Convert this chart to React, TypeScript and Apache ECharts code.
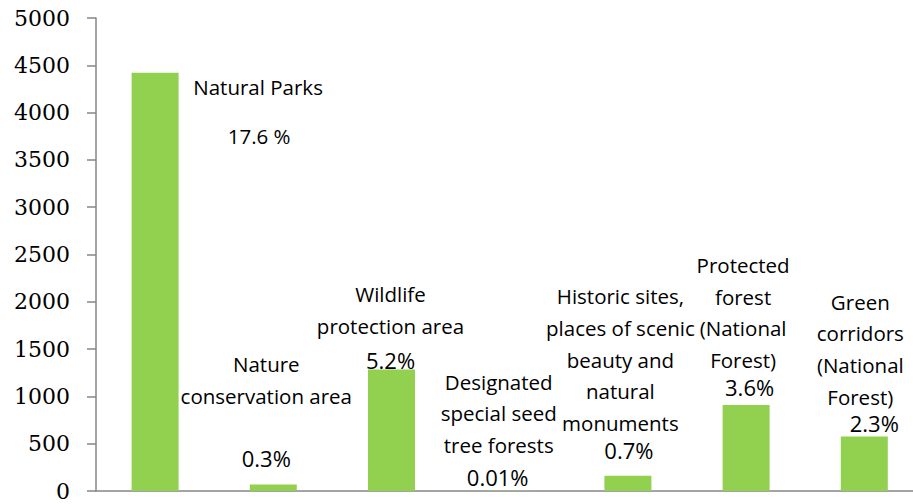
import React, { useEffect, useRef } from "react";
import * as echarts from "echarts";

// ---- data ----
const categories = [
  "Natural Parks",
  "Nature conservation area",
  "Wildlife protection area",
  "Designated special seed tree forests",
  "Historic sites, places of scenic beauty and natural monuments",
  "Protected forest (National Forest)",
  "Green corridors (National Forest)",
];
const nameLabels = [
  "Natural Parks",
  "Nature\nconservation area",
  "Wildlife\nprotection area",
  "Designated\nspecial seed\ntree forests",
  "Historic sites,\nplaces of scenic\nbeauty and\nnatural\nmonuments",
  "Protected\nforest\n(National\nForest)",
  "Green\ncorridors\n(National\nForest)",
];
const areaValues = [4420, 70, 1285, 2, 160, 910, 575];
const shareLabels = ["17.6 %", "0.3%", "5.2%", "0.01%", "0.7%", "3.6%", "2.3%"];
const yTicks = { min: 0, max: 5000, interval: 500 };

// ---- layout (label offsets relative to bar top centre) ----
const nameOffsets = [
  [103, 30],
  [-7, -73],
  [-1, -28],
  [-11, -30],
  [-7.5, -37],
  [-3, -29],
  [-4, -24],
];
const shareOffsets = [
  [104, 72],
  [-7, -17],
  [-1, 0],
  [-12, -5],
  [1, -17],
  [3.5, -9],
  [10, -5],
];

export default function App() {
  const ref = useRef<HTMLDivElement>(null);
  useEffect(() => {
    if (!ref.current) return;
    const chart = echarts.init(ref.current, null, { renderer: "svg" });
    const textFont = "Open Sans";
    chart.setOption({
      animation: false,
      backgroundColor: "#ffffff",
      grid: { left: 96, right: 0.6, top: 18, bottom: 13, containLabel: false },
      xAxis: {
        type: "category",
        data: categories,
        axisTick: { show: false },
        axisLabel: { show: false },
        axisLine: { show: true, lineStyle: { color: "#868686", width: 1.5 } },
      },
      yAxis: {
        type: "value",
        min: yTicks.min,
        max: yTicks.max,
        interval: yTicks.interval,
        splitLine: { show: false },
        axisLine: { show: true, lineStyle: { color: "#868686", width: 1.5 } },
        axisTick: { show: true, length: 9, lineStyle: { color: "#868686", width: 1.5 } },
        axisLabel: {
          margin: 26,
          fontFamily: "'DejaVu Serif', 'Liberation Serif', serif",
          fontSize: 22,
          color: "#000000",
          formatter: (v: number) => String(v),
        },
      },
      series: [
        {
          type: "bar",
          barWidth: 47,
          itemStyle: { color: "#92D050" },
          data: areaValues.map((v, i) => ({
            value: v,
            label: {
              show: true,
              position: "top",
              distance: 0,
              offset: nameOffsets[i],
              formatter: nameLabels[i],
              fontFamily: textFont,
              fontSize: 20.5,
              lineHeight: 31.7,
              color: "#000000",
              align: "center",
            },
          })),
        },
        {
          type: "bar",
          barWidth: 47,
          barGap: "-100%",
          silent: true,
          itemStyle: { color: "rgba(0,0,0,0)" },
          data: areaValues.map((v, i) => ({
            value: v,
            label: {
              show: true,
              position: "top",
              distance: 0,
              offset: shareOffsets[i],
              formatter: shareLabels[i],
              fontFamily: textFont,
              fontSize: i === 0 ? 20.5 : 22,
              lineHeight: 18,
              color: "#000000",
              align: "center",
            },
          })),
        },
      ],
    });
    return () => chart.dispose();
  }, []);
  return (
    <div
      style={{
        position: "absolute",
        left: 0,
        top: 0,
        width: 913,
        height: 504,
        overflow: "hidden",
      }}
    >
      <div ref={ref} style={{ width: 924, height: 504 }} />
    </div>
  );
}
